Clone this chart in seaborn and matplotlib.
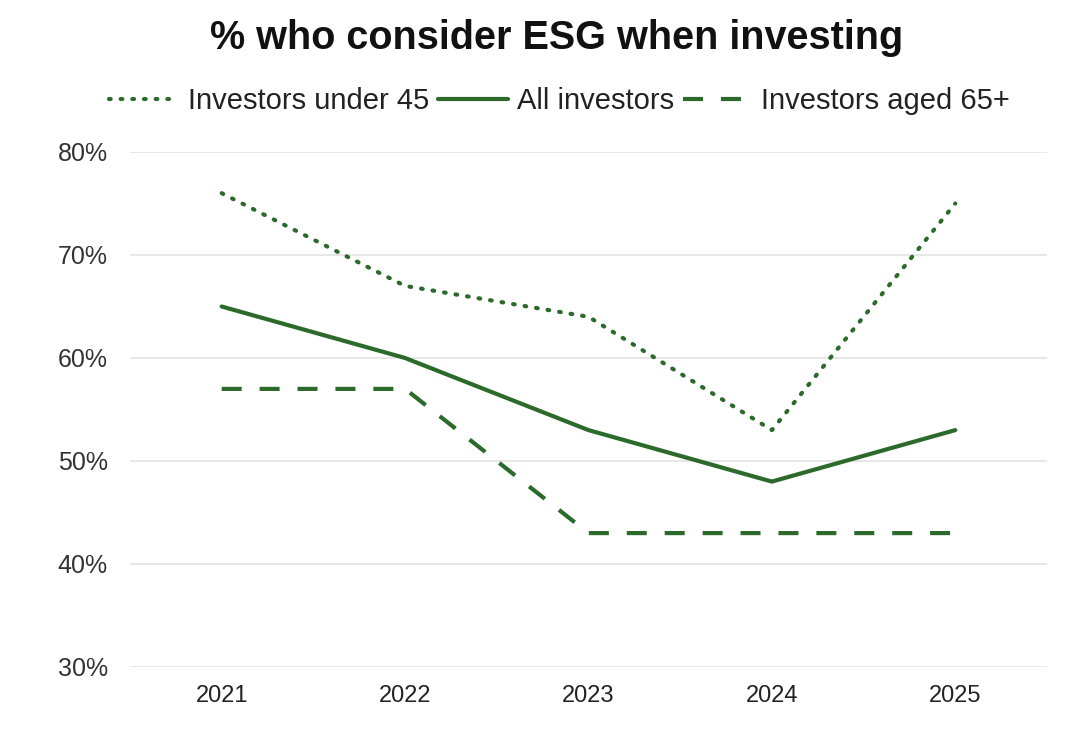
import matplotlib
matplotlib.use("Agg")
import matplotlib.pyplot as plt
import seaborn as sns
import pandas as pd
from matplotlib.lines import Line2D

years = [2021, 2022, 2023, 2024, 2025]
under_45 = [76, 67, 64, 53, 75]
all_investors = [65, 60, 53, 48, 53]
aged_65 = [57, 57, 43, 43, 43]
series_names = ["Investors under 45", "All investors", "Investors aged 65+"]

df = pd.DataFrame({
    "year": years * 3,
    "value": under_45 + all_investors + aged_65,
    "series": [series_names[0]] * 5 + [series_names[1]] * 5 + [series_names[2]] * 5,
})

sns.set_theme(style="white")
plt.rcParams["font.family"] = ["Liberation Sans", "DejaVu Sans"]

green = "#2b6a2b"
dot = (0.4, 2.4)
dash = (4.8, 4.3)

fig = plt.figure(figsize=(10.68, 7.44), dpi=100)
ax = fig.add_axes([0.1217, 0.1035, 0.8586, 0.6922])

dashes = {series_names[0]: dot, series_names[1]: "", series_names[2]: dash}
sns.lineplot(data=df, x="year", y="value", hue="series", style="series",
             palette=[green] * 3, dashes=dashes, linewidth=3, ax=ax, legend=False)

for i, ln in enumerate(ax.lines):
    ln.set_clip_on(False)
    ln.set_dash_capstyle("round" if i == 0 else "butt")

ax.set_xlim(2020.5, 2025.5)
ax.set_ylim(30, 80)
ax.set_xticks(years)
ax.set_xticklabels([str(y) for y in years], fontsize=17, color="#222222")
ax.set_yticks(range(30, 81, 10))
ax.set_yticklabels([f"{v}%" for v in range(30, 81, 10)], fontsize=18, color="#333333")
ax.tick_params(axis="x", length=0, pad=13)
ax.tick_params(axis="y", length=0, pad=16)
ax.yaxis.grid(True, color="#e3e3e3", linewidth=1.2)
ax.xaxis.grid(False)
for s in ax.spines.values():
    s.set_visible(False)
ax.set_xlabel("")
ax.set_ylabel("")

handles = [
    Line2D([], [], color=green, linewidth=3, linestyle=(0, dot), dash_capstyle="round"),
    Line2D([], [], color=green, linewidth=3),
    Line2D([], [], color=green, linewidth=3, linestyle=(0, dash)),
]
fig.legend(handles, series_names, loc="center", bbox_to_anchor=(0.524, 0.864), ncol=3,
           frameon=False, fontsize=21, handlelength=2.4, handletextpad=0.3,
           columnspacing=0.3, labelcolor="#222222")

fig.text(0.5215, 0.949, "% who consider ESG when investing", ha="center", va="center",
         fontsize=28.5, fontweight="bold", color="#111111")

fig.savefig("out.png", dpi=100)
